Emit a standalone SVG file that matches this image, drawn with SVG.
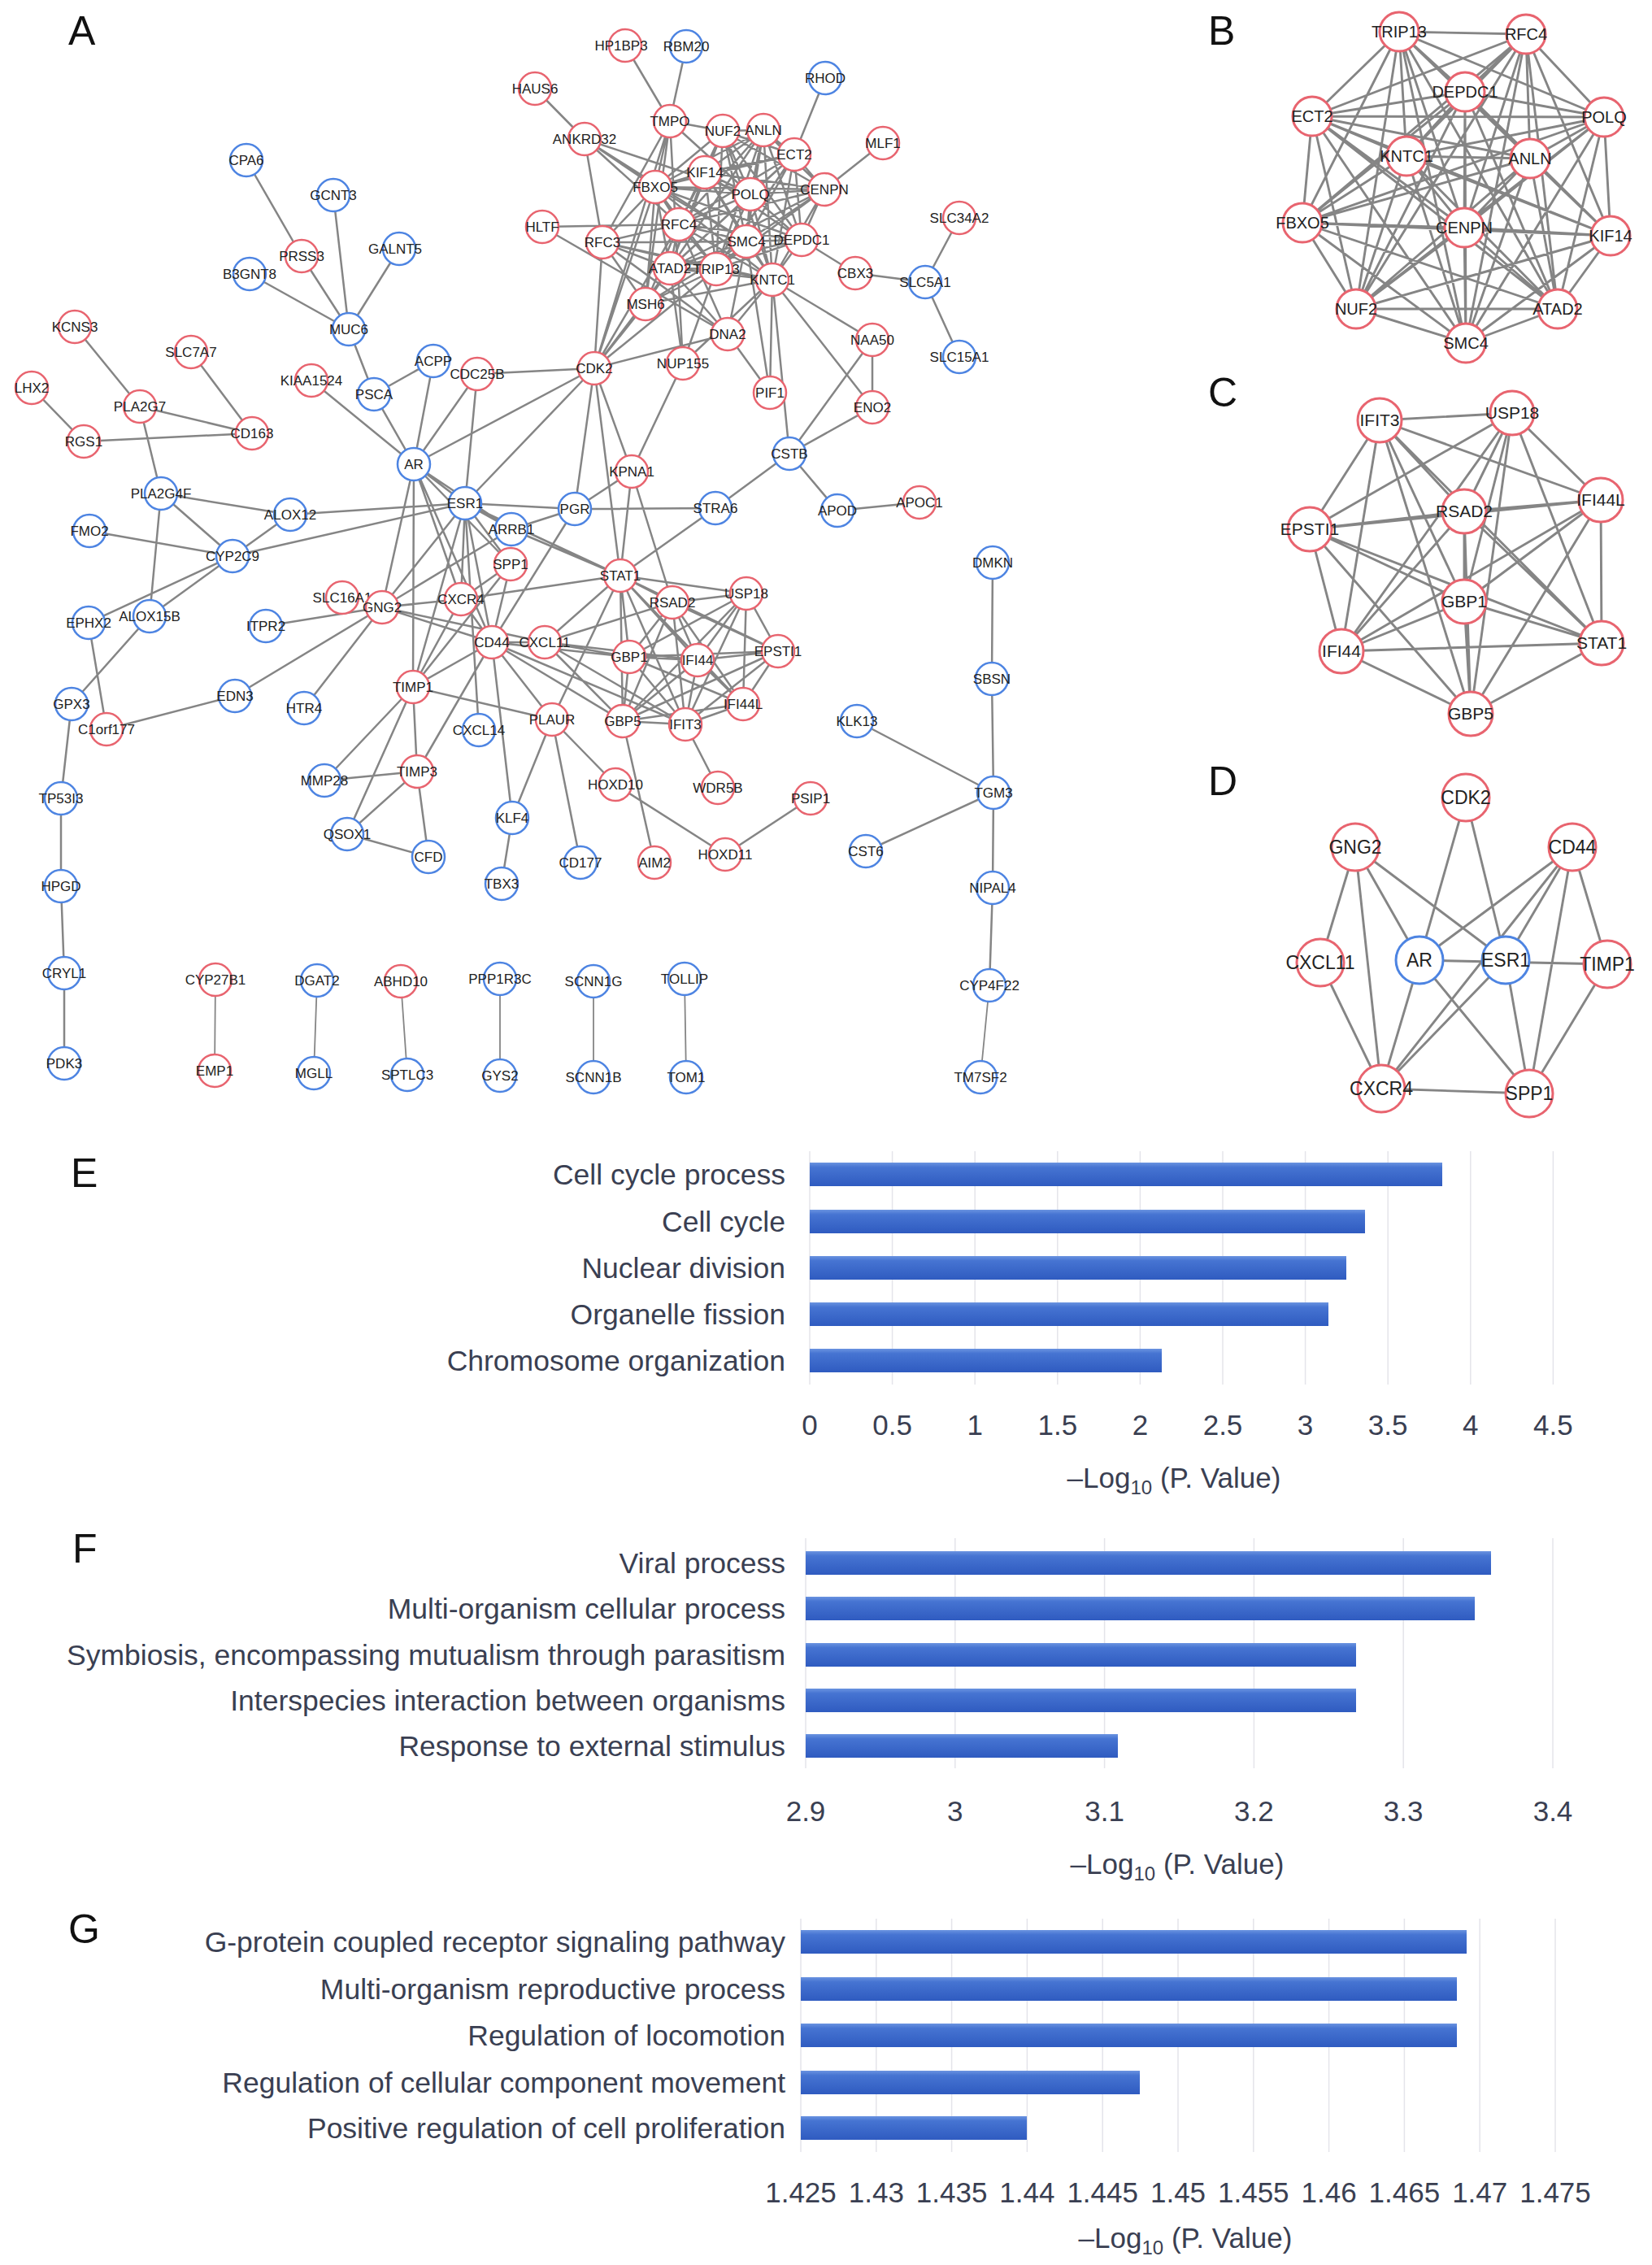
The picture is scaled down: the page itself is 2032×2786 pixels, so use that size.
<svg xmlns="http://www.w3.org/2000/svg" width="2032" height="2786" viewBox="0 0 2032 2786">
<style>
.e{stroke:#858585;stroke-width:2.5;fill:none}
.et{stroke:#858585;stroke-width:1.8;fill:none}
.e2{stroke:#858585;stroke-width:2.9;fill:none}
.n circle{fill:#fff;stroke-width:2.5}
.r circle{stroke:#e8646f}
.b circle{stroke:#4d84e2}
.n text{font-family:"Liberation Sans",Arial,sans-serif;font-size:17px;fill:#222;text-anchor:middle}
.pb text{font-size:20px}
.pc text{font-size:21px}
.pd text{font-size:23px}
.pb circle,.pc circle,.pd circle{stroke-width:3}
.lt{font-family:"Liberation Sans",Arial,sans-serif;font-size:50px;fill:#111}
.grid{stroke:#e4e4ea;stroke-width:1.5}
.lab{font-family:"Liberation Sans",Arial,sans-serif;font-size:35.5px;fill:#3a3f52;text-anchor:end}
.tick{font-family:"Liberation Sans",Arial,sans-serif;font-size:35px;fill:#3a3f52;text-anchor:middle}
.bar{fill:url(#barg)}
</style>
<defs>
<linearGradient id="barg" x1="0" y1="0" x2="0" y2="1">
<stop offset="0" stop-color="#6a93e0"/>
<stop offset="0.2" stop-color="#4674d2"/>
<stop offset="1" stop-color="#2f5bc0"/>
</linearGradient>
</defs>
<rect width="2032" height="2786" fill="#fff"/>

<!-- panel letters -->
<text class="lt" x="84" y="55">A</text>
<text class="lt" x="1486" y="55">B</text>
<text class="lt" x="1486" y="500">C</text>
<text class="lt" x="1486" y="978">D</text>
<text class="lt" x="87" y="1460">E</text>
<text class="lt" x="89" y="1922">F</text>
<text class="lt" x="84" y="2390">G</text>

<!-- ===== Panel A connectors ===== -->
<g id="connectors-A" class="e">
<path d="M769 56L824 149M844 57L824 149M658 109L719 171M1015 96L977 190M1086 176L1014 233M824 149L889 161M824 149L731 453M824 149L840 447M824 149L741 298M824 149L923 239M824 149L806 230M824 149L794 374M719 171L741 298M719 171L806 230M719 171L835 276M719 171L923 239M719 171L918 297M667 279L835 276M667 279L895 411M741 298L835 276M741 298L918 297M741 298L824 330M741 298L794 374M741 298L895 411M741 298L731 453M741 298L881 331M741 298L950 344M741 298L806 230M794 374L835 276M794 374L806 230M794 374L950 344M794 374L731 453M794 374L824 330M794 374L881 331M794 374L918 297M895 411L947 483M895 411L731 453M895 411L950 344M895 411L835 276M895 411L918 297M895 411L824 330M840 447L777 580M840 447L881 331M840 447L824 330M840 447L950 344M731 453L587 460M731 453L777 580M731 453L806 230M731 453L835 276M731 453L824 330M731 453L881 331M731 453L707 626M731 453L763 708M731 453L509 571M731 453L572 619M950 344L1073 418M950 344L1073 501M950 344L947 483M950 344L971 558M947 483L918 297M1073 418L1073 501M1073 418L971 558M1073 501L971 558M1052 336L986 295M1052 336L1138 347M1180 268L1138 347M1138 347L1180 439M971 558L880 625M971 558L1030 628M1030 628L1131 618"/>
<path d="M889 161L939 160M889 161L977 190M889 161L867 212M889 161L806 230M889 161L923 239M889 161L1014 233M889 161L835 276M889 161L918 297M889 161L986 295M889 161L824 330M889 161L881 331M889 161L950 344M939 160L977 190M939 160L867 212M939 160L806 230M939 160L923 239M939 160L1014 233M939 160L835 276M939 160L918 297M939 160L986 295M939 160L824 330M939 160L881 331M939 160L950 344M977 190L867 212M977 190L806 230M977 190L923 239M977 190L1014 233M977 190L835 276M977 190L918 297M977 190L986 295M977 190L824 330M977 190L881 331M977 190L950 344M867 212L806 230M867 212L923 239M867 212L1014 233M867 212L835 276M867 212L918 297M867 212L986 295M867 212L824 330M867 212L881 331M867 212L950 344M806 230L923 239M806 230L1014 233M806 230L835 276M806 230L918 297M806 230L986 295M806 230L824 330M806 230L881 331M806 230L950 344M923 239L1014 233M923 239L835 276M923 239L918 297M923 239L986 295M923 239L824 330M923 239L881 331M923 239L950 344M1014 233L835 276M1014 233L918 297M1014 233L986 295M1014 233L824 330M1014 233L881 331M1014 233L950 344M835 276L918 297M835 276L986 295M835 276L824 330M835 276L881 331M835 276L950 344M918 297L986 295M918 297L824 330M918 297L881 331M918 297L950 344M986 295L824 330M986 295L881 331M986 295L950 344M824 330L881 331M824 330L950 344M881 331L950 344"/>
<path d="M303 197L371 315M371 315L429 405M410 240L429 405M491 306L429 405M307 337L429 405M429 405L460 485M460 485L533 444M460 485L509 571M533 444L509 571M587 460L509 571M587 460L572 619M383 468L509 571M92 402L172 500M39 477L103 543M172 500L310 533M235 433L310 533M103 543L310 533M172 500L198 607M198 607L357 633M198 607L286 684M198 607L184 758M357 633L572 619M357 633L286 684M110 653L286 684M286 684L572 619M286 684L109 766M286 684L184 758M109 766L131 897M184 758L88 866M88 866L75 982M75 982L75 1090M75 1090L79 1197M79 1197L79 1308M131 897L289 856M289 856L470 747M327 770L470 747M374 871L470 747"/>
<path d="M509 571L572 619M509 571L508 845M509 571L605 790M509 571L567 737M509 571L628 694M509 571L470 747M509 571L629 651M572 619L629 651M572 619L628 694M572 619L567 737M572 619L605 790M572 619L470 747M572 619L508 845M572 619L763 708M572 619L707 626M572 619L589 898M629 651L763 708M629 651L470 747M629 651L707 626M628 694L605 790M628 694L567 737M628 694L508 845M567 737L470 747M567 737L605 790M567 737L763 708M567 737L508 845M470 747L605 790M470 747L670 790M605 790L670 790M605 790L766 887M605 790L679 885M605 790L630 1006M605 790L508 845M605 790L513 949M605 790L774 808M605 790L843 891M707 626L605 790M707 626L880 625M777 580L707 626M777 580L763 708M777 580L827 741M880 625L763 708M508 845L399 960M508 845L513 949M508 845L427 1026M508 845L679 885M513 949L399 960M513 949L427 1026M513 949L527 1054M427 1026L527 1054M630 1006L617 1087M679 885L630 1006M679 885L714 1061M679 885L757 965M679 885L763 708M766 887L805 1061M843 891L883 969M757 965L892 1051M892 1051L997 982M670 790L763 708M670 790L774 808M670 790L766 887M670 790L843 891M670 790L827 741M670 790L858 812"/>
<path d="M763 708L918 730M763 708L827 741M763 708L774 808M763 708L858 812M763 708L957 801M763 708L914 866M763 708L766 887M763 708L843 891M918 730L827 741M918 730L774 808M918 730L858 812M918 730L957 801M918 730L914 866M918 730L766 887M918 730L843 891M827 741L774 808M827 741L858 812M827 741L957 801M827 741L914 866M827 741L766 887M827 741L843 891M774 808L858 812M774 808L957 801M774 808L914 866M774 808L766 887M774 808L843 891M858 812L957 801M858 812L914 866M858 812L766 887M858 812L843 891M957 801L914 866M957 801L766 887M957 801L843 891M914 866L766 887M914 866L843 891M766 887L843 891"/>
<path d="M1221 692L1220 835M1220 835L1222 975M1054 887L1222 975M1065 1047L1222 975M1222 975L1221 1092M1221 1092L1217 1212"/>
<path class="et" d="M1217 1212L1206 1325M265 1205L264 1317M390 1206L386 1320M493 1207L501 1322M615 1204L615 1323M730 1207L730 1325M842 1204L844 1325"/>
</g>

<!-- ===== Panel A nodes ===== -->
<g id="nodes-A">
<g id="a-HP1BP3" class="n r"><circle cx="769" cy="56" r="20"/><text x="764" y="62">HP1BP3</text></g>
<g id="a-RBM20" class="n b"><circle cx="844" cy="57" r="20"/><text x="844" y="63">RBM20</text></g>
<g id="a-HAUS6" class="n r"><circle cx="658" cy="109" r="20"/><text x="658" y="115">HAUS6</text></g>
<g id="a-RHOD" class="n b"><circle cx="1015" cy="96" r="20"/><text x="1015" y="102">RHOD</text></g>
<g id="a-TMPO" class="n r"><circle cx="824" cy="149" r="20"/><text x="824" y="155">TMPO</text></g>
<g id="a-ANKRD32" class="n r"><circle cx="719" cy="171" r="20"/><text x="719" y="177">ANKRD32</text></g>
<g id="a-NUF2" class="n r"><circle cx="889" cy="161" r="20"/><text x="889" y="167">NUF2</text></g>
<g id="a-ANLN" class="n r"><circle cx="939" cy="160" r="20"/><text x="939" y="166">ANLN</text></g>
<g id="a-ECT2" class="n r"><circle cx="977" cy="190" r="20"/><text x="977" y="196">ECT2</text></g>
<g id="a-MLF1" class="n r"><circle cx="1086" cy="176" r="20"/><text x="1086" y="182">MLF1</text></g>
<g id="a-KIF14" class="n r"><circle cx="867" cy="212" r="20"/><text x="867" y="218">KIF14</text></g>
<g id="a-FBXO5" class="n r"><circle cx="806" cy="230" r="20"/><text x="806" y="236">FBXO5</text></g>
<g id="a-POLQ" class="n r"><circle cx="923" cy="239" r="20"/><text x="923" y="245">POLQ</text></g>
<g id="a-CENPN" class="n r"><circle cx="1014" cy="233" r="20"/><text x="1014" y="239">CENPN</text></g>
<g id="a-SLC34A2" class="n r"><circle cx="1180" cy="268" r="20"/><text x="1180" y="274">SLC34A2</text></g>
<g id="a-HLTF" class="n r"><circle cx="667" cy="279" r="20"/><text x="667" y="285">HLTF</text></g>
<g id="a-RFC4" class="n r"><circle cx="835" cy="276" r="20"/><text x="835" y="282">RFC4</text></g>
<g id="a-RFC3" class="n r"><circle cx="741" cy="298" r="20"/><text x="741" y="304">RFC3</text></g>
<g id="a-SMC4" class="n r"><circle cx="918" cy="297" r="20"/><text x="918" y="303">SMC4</text></g>
<g id="a-DEPDC1" class="n r"><circle cx="986" cy="295" r="20"/><text x="986" y="301">DEPDC1</text></g>
<g id="a-ATAD2" class="n r"><circle cx="824" cy="330" r="20"/><text x="824" y="336">ATAD2</text></g>
<g id="a-TRIP13" class="n r"><circle cx="881" cy="331" r="20"/><text x="881" y="337">TRIP13</text></g>
<g id="a-KNTC1" class="n r"><circle cx="950" cy="344" r="20"/><text x="950" y="350">KNTC1</text></g>
<g id="a-CBX3" class="n r"><circle cx="1052" cy="336" r="20"/><text x="1052" y="342">CBX3</text></g>
<g id="a-SLC5A1" class="n b"><circle cx="1138" cy="347" r="20"/><text x="1138" y="353">SLC5A1</text></g>
<g id="a-MSH6" class="n r"><circle cx="794" cy="374" r="20"/><text x="794" y="380">MSH6</text></g>
<g id="a-DNA2" class="n r"><circle cx="895" cy="411" r="20"/><text x="895" y="417">DNA2</text></g>
<g id="a-NAA50" class="n r"><circle cx="1073" cy="418" r="20"/><text x="1073" y="424">NAA50</text></g>
<g id="a-SLC15A1" class="n b"><circle cx="1180" cy="439" r="20"/><text x="1180" y="445">SLC15A1</text></g>
<g id="a-CDK2" class="n r"><circle cx="731" cy="453" r="20"/><text x="731" y="459">CDK2</text></g>
<g id="a-NUP155" class="n r"><circle cx="840" cy="447" r="20"/><text x="840" y="453">NUP155</text></g>
<g id="a-PIF1" class="n r"><circle cx="947" cy="483" r="20"/><text x="947" y="489">PIF1</text></g>
<g id="a-ENO2" class="n r"><circle cx="1073" cy="501" r="20"/><text x="1073" y="507">ENO2</text></g>
<g id="a-CSTB" class="n b"><circle cx="971" cy="558" r="20"/><text x="971" y="564">CSTB</text></g>
<g id="a-KPNA1" class="n r"><circle cx="777" cy="580" r="20"/><text x="777" y="586">KPNA1</text></g>
<g id="a-CPA6" class="n b"><circle cx="303" cy="197" r="20"/><text x="303" y="203">CPA6</text></g>
<g id="a-GCNT3" class="n b"><circle cx="410" cy="240" r="20"/><text x="410" y="246">GCNT3</text></g>
<g id="a-PRSS3" class="n r"><circle cx="371" cy="315" r="20"/><text x="371" y="321">PRSS3</text></g>
<g id="a-GALNT5" class="n b"><circle cx="491" cy="306" r="20"/><text x="486" y="312">GALNT5</text></g>
<g id="a-B3GNT8" class="n b"><circle cx="307" cy="337" r="20"/><text x="307" y="343">B3GNT8</text></g>
<g id="a-MUC6" class="n b"><circle cx="429" cy="405" r="20"/><text x="429" y="411">MUC6</text></g>
<g id="a-KCNS3" class="n r"><circle cx="92" cy="402" r="20"/><text x="92" y="408">KCNS3</text></g>
<g id="a-SLC7A7" class="n r"><circle cx="235" cy="433" r="20"/><text x="235" y="439">SLC7A7</text></g>
<g id="a-LHX2" class="n r"><circle cx="39" cy="477" r="20"/><text x="39" y="483">LHX2</text></g>
<g id="a-PLA2G7" class="n r"><circle cx="172" cy="500" r="20"/><text x="172" y="506">PLA2G7</text></g>
<g id="a-RGS1" class="n r"><circle cx="103" cy="543" r="20"/><text x="103" y="549">RGS1</text></g>
<g id="a-CD163" class="n r"><circle cx="310" cy="533" r="20"/><text x="310" y="539">CD163</text></g>
<g id="a-KIAA1524" class="n r"><circle cx="383" cy="468" r="20"/><text x="383" y="474">KIAA1524</text></g>
<g id="a-PSCA" class="n b"><circle cx="460" cy="485" r="20"/><text x="460" y="491">PSCA</text></g>
<g id="a-ACPP" class="n b"><circle cx="533" cy="444" r="20"/><text x="533" y="450">ACPP</text></g>
<g id="a-CDC25B" class="n r"><circle cx="587" cy="460" r="20"/><text x="587" y="466">CDC25B</text></g>
<g id="a-AR" class="n b"><circle cx="509" cy="571" r="20"/><text x="509" y="577">AR</text></g>
<g id="a-ESR1" class="n b"><circle cx="572" cy="619" r="20"/><text x="572" y="625">ESR1</text></g>
<g id="a-PLA2G4F" class="n b"><circle cx="198" cy="607" r="20"/><text x="198" y="613">PLA2G4F</text></g>
<g id="a-ALOX12" class="n b"><circle cx="357" cy="633" r="20"/><text x="357" y="639">ALOX12</text></g>
<g id="a-FMO2" class="n b"><circle cx="110" cy="653" r="20"/><text x="110" y="659">FMO2</text></g>
<g id="a-ARRB1" class="n b"><circle cx="629" cy="651" r="20"/><text x="629" y="657">ARRB1</text></g>
<g id="a-CYP2C9" class="n b"><circle cx="286" cy="684" r="20"/><text x="286" y="690">CYP2C9</text></g>
<g id="a-SPP1" class="n r"><circle cx="628" cy="694" r="20"/><text x="628" y="700">SPP1</text></g>
<g id="a-SLC16A1" class="n r"><circle cx="421" cy="735" r="20"/><text x="421" y="741">SLC16A1</text></g>
<g id="a-GNG2" class="n r"><circle cx="470" cy="747" r="20"/><text x="470" y="753">GNG2</text></g>
<g id="a-CXCR4" class="n r"><circle cx="567" cy="737" r="20"/><text x="567" y="743">CXCR4</text></g>
<g id="a-EPHX2" class="n b"><circle cx="109" cy="766" r="20"/><text x="109" y="772">EPHX2</text></g>
<g id="a-ALOX15B" class="n b"><circle cx="184" cy="758" r="20"/><text x="184" y="764">ALOX15B</text></g>
<g id="a-ITPR2" class="n b"><circle cx="327" cy="770" r="20"/><text x="327" y="776">ITPR2</text></g>
<g id="a-CD44" class="n r"><circle cx="605" cy="790" r="20"/><text x="605" y="796">CD44</text></g>
<g id="a-TIMP1" class="n r"><circle cx="508" cy="845" r="20"/><text x="508" y="851">TIMP1</text></g>
<g id="a-GPX3" class="n b"><circle cx="88" cy="866" r="20"/><text x="88" y="872">GPX3</text></g>
<g id="a-EDN3" class="n b"><circle cx="289" cy="856" r="20"/><text x="289" y="862">EDN3</text></g>
<g id="a-HTR4" class="n b"><circle cx="374" cy="871" r="20"/><text x="374" y="877">HTR4</text></g>
<g id="a-C1orf177" class="n r"><circle cx="131" cy="897" r="20"/><text x="131" y="903">C1orf177</text></g>
<g id="a-CXCL14" class="n b"><circle cx="589" cy="898" r="20"/><text x="589" y="904">CXCL14</text></g>
<g id="a-MMP28" class="n b"><circle cx="399" cy="960" r="20"/><text x="399" y="966">MMP28</text></g>
<g id="a-TIMP3" class="n r"><circle cx="513" cy="949" r="20"/><text x="513" y="955">TIMP3</text></g>
<g id="a-TP53I3" class="n b"><circle cx="75" cy="982" r="20"/><text x="75" y="988">TP53I3</text></g>
<g id="a-KLF4" class="n b"><circle cx="630" cy="1006" r="20"/><text x="630" y="1012">KLF4</text></g>
<g id="a-QSOX1" class="n b"><circle cx="427" cy="1026" r="20"/><text x="427" y="1032">QSOX1</text></g>
<g id="a-CFD" class="n b"><circle cx="527" cy="1054" r="20"/><text x="527" y="1060">CFD</text></g>
<g id="a-HPGD" class="n b"><circle cx="75" cy="1090" r="20"/><text x="75" y="1096">HPGD</text></g>
<g id="a-TBX3" class="n b"><circle cx="617" cy="1087" r="20"/><text x="617" y="1093">TBX3</text></g>
<g id="a-PGR" class="n b"><circle cx="707" cy="626" r="20"/><text x="707" y="632">PGR</text></g>
<g id="a-STRA6" class="n b"><circle cx="880" cy="625" r="20"/><text x="880" y="631">STRA6</text></g>
<g id="a-APOD" class="n b"><circle cx="1030" cy="628" r="20"/><text x="1030" y="634">APOD</text></g>
<g id="a-APOC1" class="n r"><circle cx="1131" cy="618" r="20"/><text x="1131" y="624">APOC1</text></g>
<g id="a-DMKN" class="n b"><circle cx="1221" cy="692" r="20"/><text x="1221" y="698">DMKN</text></g>
<g id="a-STAT1" class="n r"><circle cx="763" cy="708" r="20"/><text x="763" y="714">STAT1</text></g>
<g id="a-USP18" class="n r"><circle cx="918" cy="730" r="20"/><text x="918" y="736">USP18</text></g>
<g id="a-RSAD2" class="n r"><circle cx="827" cy="741" r="20"/><text x="827" y="747">RSAD2</text></g>
<g id="a-CXCL11" class="n r"><circle cx="670" cy="790" r="20"/><text x="670" y="796">CXCL11</text></g>
<g id="a-GBP1" class="n r"><circle cx="774" cy="808" r="20"/><text x="774" y="814">GBP1</text></g>
<g id="a-IFI44" class="n r"><circle cx="858" cy="812" r="20"/><text x="858" y="818">IFI44</text></g>
<g id="a-EPSTI1" class="n r"><circle cx="957" cy="801" r="20"/><text x="957" y="807">EPSTI1</text></g>
<g id="a-SBSN" class="n b"><circle cx="1220" cy="835" r="20"/><text x="1220" y="841">SBSN</text></g>
<g id="a-IFI44L" class="n r"><circle cx="914" cy="866" r="20"/><text x="914" y="872">IFI44L</text></g>
<g id="a-KLK13" class="n b"><circle cx="1054" cy="887" r="20"/><text x="1054" y="893">KLK13</text></g>
<g id="a-PLAUR" class="n r"><circle cx="679" cy="885" r="20"/><text x="679" y="891">PLAUR</text></g>
<g id="a-GBP5" class="n r"><circle cx="766" cy="887" r="20"/><text x="766" y="893">GBP5</text></g>
<g id="a-IFIT3" class="n r"><circle cx="843" cy="891" r="20"/><text x="843" y="897">IFIT3</text></g>
<g id="a-HOXD10" class="n r"><circle cx="757" cy="965" r="20"/><text x="757" y="971">HOXD10</text></g>
<g id="a-WDR5B" class="n r"><circle cx="883" cy="969" r="20"/><text x="883" y="975">WDR5B</text></g>
<g id="a-PSIP1" class="n r"><circle cx="997" cy="982" r="20"/><text x="997" y="988">PSIP1</text></g>
<g id="a-TGM3" class="n b"><circle cx="1222" cy="975" r="20"/><text x="1222" y="981">TGM3</text></g>
<g id="a-CD177" class="n b"><circle cx="714" cy="1061" r="20"/><text x="714" y="1067">CD177</text></g>
<g id="a-AIM2" class="n r"><circle cx="805" cy="1061" r="20"/><text x="805" y="1067">AIM2</text></g>
<g id="a-HOXD11" class="n r"><circle cx="892" cy="1051" r="20"/><text x="892" y="1057">HOXD11</text></g>
<g id="a-CST6" class="n b"><circle cx="1065" cy="1047" r="20"/><text x="1065" y="1053">CST6</text></g>
<g id="a-NIPAL4" class="n b"><circle cx="1221" cy="1092" r="20"/><text x="1221" y="1098">NIPAL4</text></g>
<g id="a-CYP4F22" class="n b"><circle cx="1217" cy="1212" r="20"/><text x="1217" y="1218">CYP4F22</text></g>
<g id="a-TM7SF2" class="n b"><circle cx="1206" cy="1325" r="20"/><text x="1206" y="1331">TM7SF2</text></g>
<g id="a-CRYL1" class="n b"><circle cx="79" cy="1197" r="20"/><text x="79" y="1203">CRYL1</text></g>
<g id="a-PDK3" class="n b"><circle cx="79" cy="1308" r="20"/><text x="79" y="1314">PDK3</text></g>
<g id="a-CYP27B1" class="n r"><circle cx="265" cy="1205" r="20"/><text x="265" y="1211">CYP27B1</text></g>
<g id="a-EMP1" class="n r"><circle cx="264" cy="1317" r="20"/><text x="264" y="1323">EMP1</text></g>
<g id="a-DGAT2" class="n b"><circle cx="390" cy="1206" r="20"/><text x="390" y="1212">DGAT2</text></g>
<g id="a-MGLL" class="n b"><circle cx="386" cy="1320" r="20"/><text x="386" y="1326">MGLL</text></g>
<g id="a-ABHD10" class="n r"><circle cx="493" cy="1207" r="20"/><text x="493" y="1213">ABHD10</text></g>
<g id="a-SPTLC3" class="n b"><circle cx="501" cy="1322" r="20"/><text x="501" y="1328">SPTLC3</text></g>
<g id="a-PPP1R3C" class="n b"><circle cx="615" cy="1204" r="20"/><text x="615" y="1210">PPP1R3C</text></g>
<g id="a-GYS2" class="n b"><circle cx="615" cy="1323" r="20"/><text x="615" y="1329">GYS2</text></g>
<g id="a-SCNN1G" class="n b"><circle cx="730" cy="1207" r="20"/><text x="730" y="1213">SCNN1G</text></g>
<g id="a-SCNN1B" class="n b"><circle cx="730" cy="1325" r="20"/><text x="730" y="1331">SCNN1B</text></g>
<g id="a-TOLLIP" class="n b"><circle cx="842" cy="1204" r="20"/><text x="842" y="1210">TOLLIP</text></g>
<g id="a-TOM1" class="n b"><circle cx="844" cy="1325" r="20"/><text x="844" y="1331">TOM1</text></g>
</g>

<!-- ===== Panel B ===== -->
<g id="connectors-B" class="e2">
<path d="M1721 39L1877 42M1721 39L1802 113M1721 39L1614 143M1721 39L1973 144M1721 39L1730 192M1721 39L1882 195M1721 39L1602 274M1721 39L1801 280M1721 39L1981 290M1721 39L1668 380M1721 39L1916 380M1721 39L1803 422M1877 42L1802 113M1877 42L1614 143M1877 42L1973 144M1877 42L1730 192M1877 42L1882 195M1877 42L1602 274M1877 42L1801 280M1877 42L1981 290M1877 42L1668 380M1877 42L1916 380M1877 42L1803 422M1802 113L1614 143M1802 113L1973 144M1802 113L1730 192M1802 113L1882 195M1802 113L1602 274M1802 113L1801 280M1802 113L1981 290M1802 113L1668 380M1802 113L1916 380M1802 113L1803 422M1614 143L1973 144M1614 143L1730 192M1614 143L1882 195M1614 143L1602 274M1614 143L1801 280M1614 143L1981 290M1614 143L1668 380M1614 143L1916 380M1614 143L1803 422M1973 144L1730 192M1973 144L1882 195M1973 144L1602 274M1973 144L1801 280M1973 144L1981 290M1973 144L1668 380M1973 144L1916 380M1973 144L1803 422M1730 192L1882 195M1730 192L1602 274M1730 192L1801 280M1730 192L1981 290M1730 192L1668 380M1730 192L1916 380M1730 192L1803 422M1882 195L1602 274M1882 195L1801 280M1882 195L1981 290M1882 195L1668 380M1882 195L1916 380M1882 195L1803 422M1602 274L1801 280M1602 274L1981 290M1602 274L1668 380M1602 274L1916 380M1602 274L1803 422M1801 280L1981 290M1801 280L1668 380M1801 280L1916 380M1801 280L1803 422M1981 290L1668 380M1981 290L1916 380M1981 290L1803 422M1668 380L1916 380M1668 380L1803 422M1916 380L1803 422"/>
</g>
<g id="nodes-B">
<g id="b-TRIP13" class="n r pb"><circle cx="1721" cy="39" r="24"/><text x="1721" y="46">TRIP13</text></g>
<g id="b-RFC4" class="n r pb"><circle cx="1877" cy="42" r="24"/><text x="1877" y="49">RFC4</text></g>
<g id="b-DEPDC1" class="n r pb"><circle cx="1802" cy="113" r="24"/><text x="1802" y="120">DEPDC1</text></g>
<g id="b-ECT2" class="n r pb"><circle cx="1614" cy="143" r="24"/><text x="1614" y="150">ECT2</text></g>
<g id="b-POLQ" class="n r pb"><circle cx="1973" cy="144" r="24"/><text x="1973" y="151">POLQ</text></g>
<g id="b-KNTC1" class="n r pb"><circle cx="1730" cy="192" r="24"/><text x="1730" y="199">KNTC1</text></g>
<g id="b-ANLN" class="n r pb"><circle cx="1882" cy="195" r="24"/><text x="1882" y="202">ANLN</text></g>
<g id="b-FBXO5" class="n r pb"><circle cx="1602" cy="274" r="24"/><text x="1602" y="281">FBXO5</text></g>
<g id="b-CENPN" class="n r pb"><circle cx="1801" cy="280" r="24"/><text x="1801" y="287">CENPN</text></g>
<g id="b-KIF14" class="n r pb"><circle cx="1981" cy="290" r="24"/><text x="1981" y="297">KIF14</text></g>
<g id="b-NUF2" class="n r pb"><circle cx="1668" cy="380" r="24"/><text x="1668" y="387">NUF2</text></g>
<g id="b-ATAD2" class="n r pb"><circle cx="1916" cy="380" r="24"/><text x="1916" y="387">ATAD2</text></g>
<g id="b-SMC4" class="n r pb"><circle cx="1803" cy="422" r="24"/><text x="1803" y="429">SMC4</text></g>
</g>

<!-- ===== Panel C ===== -->
<g id="connectors-C" class="e2">
<path d="M1697 517L1860 508M1697 517L1969 615M1697 517L1801 629M1697 517L1611 651M1697 517L1801 740M1697 517L1650 801M1697 517L1970 791M1697 517L1809 878M1860 508L1969 615M1860 508L1801 629M1860 508L1611 651M1860 508L1801 740M1860 508L1650 801M1860 508L1970 791M1860 508L1809 878M1969 615L1801 629M1969 615L1611 651M1969 615L1801 740M1969 615L1650 801M1969 615L1970 791M1969 615L1809 878M1801 629L1611 651M1801 629L1801 740M1801 629L1650 801M1801 629L1970 791M1801 629L1809 878M1611 651L1801 740M1611 651L1650 801M1611 651L1970 791M1611 651L1809 878M1801 740L1650 801M1801 740L1970 791M1801 740L1809 878M1650 801L1970 791M1650 801L1809 878M1970 791L1809 878"/>
</g>
<g id="nodes-C">
<g id="c-IFIT3" class="n r pc"><circle cx="1697" cy="517" r="27"/><text x="1697" y="524">IFIT3</text></g>
<g id="c-USP18" class="n r pc"><circle cx="1860" cy="508" r="27"/><text x="1860" y="515">USP18</text></g>
<g id="c-IFI44L" class="n r pc"><circle cx="1969" cy="615" r="27"/><text x="1969" y="622">IFI44L</text></g>
<g id="c-RSAD2" class="n r pc"><circle cx="1801" cy="629" r="27"/><text x="1801" y="636">RSAD2</text></g>
<g id="c-EPSTI1" class="n r pc"><circle cx="1611" cy="651" r="27"/><text x="1611" y="658">EPSTI1</text></g>
<g id="c-GBP1" class="n r pc"><circle cx="1801" cy="740" r="27"/><text x="1801" y="747">GBP1</text></g>
<g id="c-IFI44" class="n r pc"><circle cx="1650" cy="801" r="27"/><text x="1650" y="808">IFI44</text></g>
<g id="c-STAT1" class="n r pc"><circle cx="1970" cy="791" r="27"/><text x="1970" y="798">STAT1</text></g>
<g id="c-GBP5" class="n r pc"><circle cx="1809" cy="878" r="27"/><text x="1809" y="885">GBP5</text></g>
</g>

<!-- ===== Panel D ===== -->
<g id="connectors-D" class="e2">
<path d="M1803 981L1746 1181M1803 981L1852 1181M1667 1042L1624 1184M1667 1042L1699 1339M1667 1042L1746 1181M1667 1042L1852 1181M1934 1042L1746 1181M1934 1042L1852 1181M1934 1042L1699 1339M1934 1042L1881 1345M1934 1042L1977 1186M1624 1184L1699 1339M1746 1181L1977 1186M1746 1181L1699 1339M1746 1181L1881 1345M1852 1181L1699 1339M1852 1181L1881 1345M1977 1186L1881 1345M1699 1339L1881 1345"/>
</g>
<g id="nodes-D">
<g id="d-CDK2" class="n r pd"><circle cx="1803" cy="981" r="29"/><text x="1803" y="989">CDK2</text></g>
<g id="d-GNG2" class="n r pd"><circle cx="1667" cy="1042" r="29"/><text x="1667" y="1050">GNG2</text></g>
<g id="d-CD44" class="n r pd"><circle cx="1934" cy="1042" r="29"/><text x="1934" y="1050">CD44</text></g>
<g id="d-CXCL11" class="n r pd"><circle cx="1624" cy="1184" r="29"/><text x="1624" y="1192">CXCL11</text></g>
<g id="d-AR" class="n b pd"><circle cx="1746" cy="1181" r="29"/><text x="1746" y="1189">AR</text></g>
<g id="d-ESR1" class="n b pd"><circle cx="1852" cy="1181" r="29"/><text x="1852" y="1189">ESR1</text></g>
<g id="d-TIMP1" class="n r pd"><circle cx="1977" cy="1186" r="29"/><text x="1977" y="1194">TIMP1</text></g>
<g id="d-CXCR4" class="n r pd"><circle cx="1699" cy="1339" r="29"/><text x="1699" y="1347">CXCR4</text></g>
<g id="d-SPP1" class="n r pd"><circle cx="1881" cy="1345" r="29"/><text x="1881" y="1353">SPP1</text></g>
</g>

<!-- ===== Chart E ===== -->
<g id="chart-E">
<g class="grid">
<line x1="996" y1="1416" x2="996" y2="1703"/><line x1="1097.6" y1="1416" x2="1097.6" y2="1703"/><line x1="1199.2" y1="1416" x2="1199.2" y2="1703"/><line x1="1300.8" y1="1416" x2="1300.8" y2="1703"/><line x1="1402.4" y1="1416" x2="1402.4" y2="1703"/><line x1="1504" y1="1416" x2="1504" y2="1703"/><line x1="1605.6" y1="1416" x2="1605.6" y2="1703"/><line x1="1707.2" y1="1416" x2="1707.2" y2="1703"/><line x1="1808.8" y1="1416" x2="1808.8" y2="1703"/><line x1="1910.4" y1="1416" x2="1910.4" y2="1703"/>
</g>
<rect class="bar" x="996" y="1430" width="778" height="29"/>
<rect class="bar" x="996" y="1488" width="683" height="29"/>
<rect class="bar" x="996" y="1545" width="660" height="29"/>
<rect class="bar" x="996" y="1602" width="638" height="29"/>
<rect class="bar" x="996" y="1659" width="433" height="29"/>
<text class="lab" x="966" y="1457">Cell cycle process</text>
<text class="lab" x="966" y="1515">Cell cycle</text>
<text class="lab" x="966" y="1572">Nuclear division</text>
<text class="lab" x="966" y="1629">Organelle fission</text>
<text class="lab" x="966" y="1686">Chromosome organization</text>
<g class="tick">
<text x="996" y="1765">0</text><text x="1097.6" y="1765">0.5</text><text x="1199.2" y="1765">1</text><text x="1300.8" y="1765">1.5</text><text x="1402.4" y="1765">2</text><text x="1504" y="1765">2.5</text><text x="1605.6" y="1765">3</text><text x="1707.2" y="1765">3.5</text><text x="1808.8" y="1765">4</text><text x="1910.4" y="1765">4.5</text>
</g>
<text class="tick" x="1444" y="1830">–Log<tspan font-size="24" dy="8">10</tspan><tspan dy="-8"> (P. Value)</tspan></text>
</g>

<!-- ===== Chart F ===== -->
<g id="chart-F">
<g class="grid">
<line x1="991" y1="1892" x2="991" y2="2175"/><line x1="1174.8" y1="1892" x2="1174.8" y2="2175"/><line x1="1358.6" y1="1892" x2="1358.6" y2="2175"/><line x1="1542.4" y1="1892" x2="1542.4" y2="2175"/><line x1="1726.2" y1="1892" x2="1726.2" y2="2175"/><line x1="1910" y1="1892" x2="1910" y2="2175"/>
</g>
<rect class="bar" x="991" y="1908" width="843" height="29"/>
<rect class="bar" x="991" y="1964" width="823" height="29"/>
<rect class="bar" x="991" y="2021" width="677" height="29"/>
<rect class="bar" x="991" y="2077" width="677" height="29"/>
<rect class="bar" x="991" y="2133" width="384" height="29"/>
<text class="lab" x="966" y="1935">Viral process</text>
<text class="lab" x="966" y="1991">Multi-organism cellular process</text>
<text class="lab" x="966" y="2048">Symbiosis, encompassing mutualism through parasitism</text>
<text class="lab" x="966" y="2104">Interspecies interaction between organisms</text>
<text class="lab" x="966" y="2160">Response to external stimulus</text>
<g class="tick">
<text x="991" y="2240">2.9</text><text x="1174.8" y="2240">3</text><text x="1358.6" y="2240">3.1</text><text x="1542.4" y="2240">3.2</text><text x="1726.2" y="2240">3.3</text><text x="1910" y="2240">3.4</text>
</g>
<text class="tick" x="1448" y="2305">–Log<tspan font-size="24" dy="8">10</tspan><tspan dy="-8"> (P. Value)</tspan></text>
</g>

<!-- ===== Chart G ===== -->
<g id="chart-G">
<g class="grid">
<line x1="985" y1="2360" x2="985" y2="2647"/><line x1="1077.8" y1="2360" x2="1077.8" y2="2647"/><line x1="1170.6" y1="2360" x2="1170.6" y2="2647"/><line x1="1263.4" y1="2360" x2="1263.4" y2="2647"/><line x1="1356.2" y1="2360" x2="1356.2" y2="2647"/><line x1="1449" y1="2360" x2="1449" y2="2647"/><line x1="1541.8" y1="2360" x2="1541.8" y2="2647"/><line x1="1634.6" y1="2360" x2="1634.6" y2="2647"/><line x1="1727.4" y1="2360" x2="1727.4" y2="2647"/><line x1="1820.2" y1="2360" x2="1820.2" y2="2647"/><line x1="1913" y1="2360" x2="1913" y2="2647"/>
</g>
<rect class="bar" x="985" y="2374" width="819" height="29"/>
<rect class="bar" x="985" y="2432" width="807" height="29"/>
<rect class="bar" x="985" y="2489" width="807" height="29"/>
<rect class="bar" x="985" y="2547" width="417" height="29"/>
<rect class="bar" x="985" y="2603" width="278" height="29"/>
<text class="lab" x="966" y="2401">G-protein coupled receptor signaling pathway</text>
<text class="lab" x="966" y="2459">Multi-organism reproductive process</text>
<text class="lab" x="966" y="2516">Regulation of locomotion</text>
<text class="lab" x="966" y="2574">Regulation of cellular component movement</text>
<text class="lab" x="966" y="2630">Positive regulation of cell proliferation</text>
<g class="tick">
<text x="985" y="2709">1.425</text><text x="1077.8" y="2709">1.43</text><text x="1170.6" y="2709">1.435</text><text x="1263.4" y="2709">1.44</text><text x="1356.2" y="2709">1.445</text><text x="1449" y="2709">1.45</text><text x="1541.8" y="2709">1.455</text><text x="1634.6" y="2709">1.46</text><text x="1727.4" y="2709">1.465</text><text x="1820.2" y="2709">1.47</text><text x="1913" y="2709">1.475</text>
</g>
<text class="tick" x="1458" y="2765">–Log<tspan font-size="24" dy="8">10</tspan><tspan dy="-8"> (P. Value)</tspan></text>
</g>
</svg>
